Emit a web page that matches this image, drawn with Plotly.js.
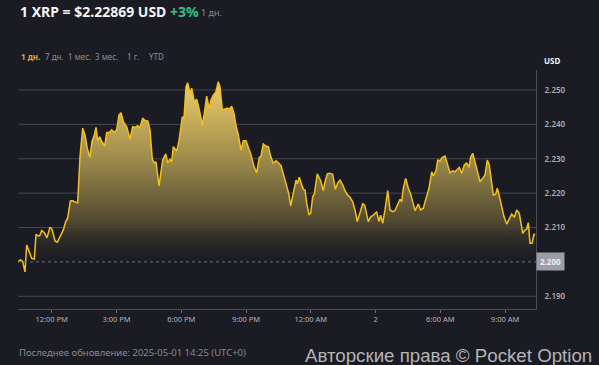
<!DOCTYPE html>
<html>
<head>
<meta charset="utf-8">
<script src="https://cdn.plot.ly/plotly-3.0.1.min.js"></script>
<style>
html,body{margin:0;padding:0;background:#1b1c23;}
#chart{width:599px;height:365px;}
</style>
</head>
<body>
<div id="chart"></div>
<script>
// hours relative to 12:00 PM (day 1)
const hoursFromNoon = [
-1.561,-1.436,-1.343,-1.237,-1.158,-1.038,-0.926,-0.806,-0.727,-0.648,
-0.556,-0.463,-0.343,-0.218,-0.079,0.014,0.153,0.259,0.384,0.537,
0.648,0.741,0.862,0.973,1.079,1.204,1.311,1.436,1.542,1.649,
1.774,1.867,1.973,2.052,2.131,2.223,2.316,2.455,2.547,2.668,
2.779,2.900,3.011,3.117,3.210,3.316,3.474,3.627,3.752,3.872,
3.983,4.090,4.215,4.321,4.447,4.553,4.660,4.752,4.831,4.970,
5.141,5.280,5.373,5.479,5.558,5.632,5.790,5.896,6.049,6.128,
6.221,6.299,6.406,6.485,6.605,6.716,6.837,
6.976,7.068,7.179,7.300,7.378,7.485,7.596,7.717,7.795,7.902,
8.027,8.133,8.226,8.337,8.444,8.537,8.643,8.768,8.875,9.000,
9.106,9.231,9.370,9.495,9.616,9.694,9.801,9.912,10.032,10.157,
10.264,10.389,10.496,10.621,10.727,10.885,10.977,11.070,11.191,11.316,
11.376,11.468,11.580,11.654,11.732,11.811,11.918,11.996,12.089,12.163,
12.302,12.395,12.459,12.580,12.659,12.765,12.890,13.015,13.136,13.247,
13.354,13.479,13.585,13.710,13.817,13.942,14.048,14.155,14.280,14.405,
14.498,14.664,
14.775,14.896,15.053,15.160,15.239,15.331,15.438,15.563,15.669,15.794,
15.901,16.008,16.133,16.211,16.285,16.397,16.517,16.628,16.721,16.827,
16.980,17.091,17.212,17.337,17.476,17.601,17.675,17.800,17.879,17.985,
18.092,18.217,18.323,18.448,18.555,18.680,18.759,18.879,18.990,19.111,
19.222,19.328,19.407,19.500,19.606,19.713,19.838,19.963,20.069,20.176,
20.269,20.380,20.454,20.565,20.639,20.732,20.843,20.950,21.075,21.195,
21.306,21.427,21.538,21.658,21.737,21.816,21.922,22.001,22.075,22.154,
22.247,22.339,22.386
];
const priceUSD = [
2.2001,2.2006,2.2001,2.1971,2.2049,2.2027,2.2010,2.2008,2.2080,2.2076,
2.2076,2.2091,2.2085,2.2070,2.2101,2.2095,2.2061,2.2057,2.2073,2.2093,
2.2117,2.2127,2.2177,2.2178,2.2174,2.2172,2.2306,2.2389,2.2369,2.2330,
2.2304,2.2350,2.2369,2.2391,2.2352,2.2364,2.2350,2.2337,2.2376,2.2376,
2.2384,2.2377,2.2384,2.2427,2.2434,2.2408,2.2393,2.2357,2.2393,2.2391,
2.2396,2.2390,2.2418,2.2411,2.2410,2.2384,2.2298,2.2287,2.2291,2.2221,
2.2296,2.2314,2.2288,2.2298,2.2291,2.2335,2.2322,2.2352,2.2422,2.2418,
2.2509,2.2521,2.2490,2.2505,2.2466,2.2473,2.2442,
2.2398,2.2432,2.2482,2.2444,2.2471,2.2485,2.2493,2.2524,2.2509,2.2442,
2.2444,2.2447,2.2444,2.2453,2.2432,2.2395,2.2369,2.2325,2.2352,2.2352,
2.2333,2.2311,2.2277,2.2259,2.2304,2.2308,2.2343,2.2337,2.2335,2.2304,
2.2287,2.2294,2.2288,2.2280,2.2256,2.2224,2.2199,2.2163,2.2199,2.2238,
2.2227,2.2246,2.2224,2.2211,2.2209,2.2170,2.2138,2.2141,2.2190,2.2197,
2.2256,2.2243,2.2236,2.2207,2.2233,2.2256,2.2258,2.2255,2.2211,2.2229,
2.2238,2.2224,2.2207,2.2194,2.2188,2.2175,2.2151,2.2117,2.2144,2.2169,
2.2165,2.2117,
2.2131,2.2136,2.2146,2.2117,2.2136,2.2112,2.2151,2.2207,2.2151,2.2146,
2.2149,2.2165,2.2182,2.2175,2.2214,2.2243,2.2214,2.2197,2.2170,2.2149,
2.2168,2.2151,2.2156,2.2185,2.2214,2.2262,2.2250,2.2265,2.2296,2.2294,
2.2304,2.2308,2.2282,2.2259,2.2265,2.2262,2.2267,2.2275,2.2258,2.2282,
2.2288,2.2275,2.2304,2.2316,2.2291,2.2262,2.2233,2.2243,2.2253,2.2296,
2.2282,2.2229,2.2194,2.2197,2.2214,2.2192,2.2161,2.2131,2.2110,2.2127,
2.2139,2.2130,2.2151,2.2141,2.2117,2.2083,2.2093,2.2095,2.2114,2.2054,
2.2054,2.2081,2.2078
];
const xTickHours = [0, 3, 6, 9, 12, 15, 18, 21];
const xTickLabels = ["12:00 PM","3:00 PM","6:00 PM","9:00 PM","12:00 AM","2","6:00 AM","9:00 AM"];
const yTickValues = [2.19, 2.20, 2.21, 2.22, 2.23, 2.24, 2.25];
const yTickLabels = ["2.190","2.200","2.210","2.220","2.230","2.240","2.250"];
const referencePrice = 2.20;
const referenceLabel = "2.200";
const rangeButtons = ["1 дн.","7 дн.","1 мес.","3 мес.","1 г.","YTD"];

const FONT = "'Noto Sans', 'Open Sans', sans-serif";
const BG = '#1b1c23';

const trace = {
  x: hoursFromNoon, y: priceUSD, type: 'scatter', mode: 'lines',
  line: {color: '#f2bf1d', width: 1.5},
  fill: 'tozeroy',
  fillgradient: {
    type: 'vertical', start: 2.1985, stop: 2.2525,
    colorscale: [[0, 'rgba(27,28,35,0.0)'], [0.25, 'rgba(85,77,50,0.95)'], [0.6, 'rgb(162,142,76)'], [1, 'rgb(236,206,108)']]
  },
  hoverinfo: 'skip'
};

const shapes = [];
yTickValues.forEach(v => {
  if (v === referencePrice) return;
  shapes.push({type:'line', xref:'paper', x0:0, x1:1, yref:'y', y0:v, y1:v,
    line:{color:'#45474f', width:1}, layer:'below'});
});
shapes.push({type:'line', xref:'paper', x0:0, x1:1, yref:'y', y0:referencePrice, y1:referencePrice,
  line:{color:'#6a6d76', width:1, dash:'dot'}, layer:'above'});

// the reference level label is drawn as a highlighted box instead of the plain tick label
const yTickText = yTickValues.map((v, i) => v === referencePrice ? '' : yTickLabels[i]);

const px = v => (v - 18) / 518;
const py = v => (309 - v) / 239;

const annotations = [
  {xref:'paper', yref:'paper', x:px(19), y:py(11.5), xanchor:'left', yanchor:'middle', showarrow:false, borderpad:0,
   text:"<b>1 XRP = $2.22869 USD <span style='color:#35c283'>+3%</span></b>", font:{family:FONT, size:14, color:'#f2f2f4'}},
  {xref:'paper', yref:'paper', x:px(200), y:py(12.5), xanchor:'left', yanchor:'middle', showarrow:false, borderpad:0,
   text:"1 дн.", font:{family:FONT, size:9, color:'#8a8d95'}},
  {xref:'paper', yref:'paper', x:px(543), y:py(61), xanchor:'left', yanchor:'middle', showarrow:false, borderpad:0,
   text:"<b>USD</b>", font:{family:FONT, size:8, color:'#f0f0f2'}},
  {xref:'paper', yref:'y', x:1, y:referencePrice, xanchor:'left', yanchor:'middle', showarrow:false, borderpad:3,
   bgcolor:'#9b9ea7', text:"<b>" + referenceLabel + "</b>", font:{family:FONT, size:8, color:'#eeeef0'}},
  {xref:'paper', yref:'paper', x:px(18), y:py(352), xanchor:'left', yanchor:'middle', showarrow:false, borderpad:0,
   text:"Последнее обновление: 2025-05-01 14:25 (UTC+0)", font:{family:FONT, size:9.5, color:'#868991'}},
  {xref:'paper', yref:'paper', x:px(593), y:py(355.5), xanchor:'right', yanchor:'middle', showarrow:false, borderpad:0,
   text:"Авторские права © Pocket Option", font:{family:'Liberation Sans, Arial, sans-serif', size:18.7, color:'#b4b4b6'}}
];
const btnX = [20, 44, 67, 94, 126, 148];
rangeButtons.forEach((t, i) => {
  annotations.push({xref:'paper', yref:'paper', x:px(btnX[i]), y:py(57), xanchor:'left', yanchor:'middle', showarrow:false, borderpad:0,
    text: i === 0 ? '<b>' + t + '</b>' : t, font:{family:FONT, size:8, color: i === 0 ? '#d9ac2a' : '#8a8d95'}});
});

const layout = {
  width: 599, height: 365,
  margin: {l:18, r:63, t:70, b:56},
  paper_bgcolor: BG, plot_bgcolor: BG,
  showlegend: false,
  font: {family: FONT, color:'#a9acb4'},
  xaxis: {
    range: [-1.561, 22.432], tickvals: xTickHours, ticktext: xTickLabels,
    showgrid: false, zeroline: false, showline: true, linecolor: '#4a4c55', linewidth: 1,
    ticks: 'outside', ticklen: 3, tickcolor: '#6a6d76',
    tickfont: {family: FONT, size: 7.5, color: '#b0b3bb'}, fixedrange: true
  },
  yaxis: {
    side: 'right', range: [2.1863, 2.2558], tickvals: yTickValues, ticktext: yTickText,
    showgrid: false, zeroline: false, showline: true, linecolor: '#4a4c55', linewidth: 1,
    ticks: '', ticklabelstandoff: 6,
    tickfont: {family: FONT, size: 8, color: '#a9acb4', weight: 600}, fixedrange: true
  },
  shapes: shapes,
  annotations: annotations,
  hovermode: false
};

Plotly.newPlot('chart', [trace], layout, {displayModeBar: false, staticPlot: true});
</script>
</body>
</html>
